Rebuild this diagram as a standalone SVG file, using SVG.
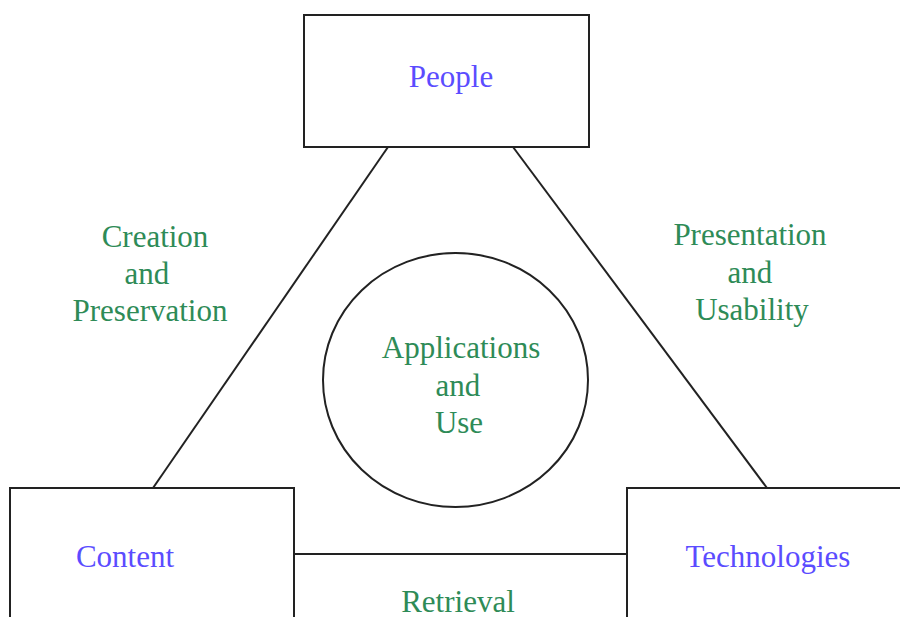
<svg xmlns="http://www.w3.org/2000/svg" width="900" height="617" viewBox="0 0 900 617">
<style>
.box{fill:#fff;stroke:#222;stroke-width:2}
.ln{stroke:#222;stroke-width:2;fill:none}
.t{font-family:"Liberation Serif","Times New Roman",serif;font-size:31px;text-anchor:middle}
.b{fill:#5b4cff}
.g{fill:#2e8b57}
</style>
<rect width="900" height="617" fill="#fff"/>
<g id="connectors">
<line class="ln" x1="388" y1="147" x2="153" y2="488"/>
<line class="ln" x1="513" y1="147" x2="767" y2="488"/>
<line class="ln" x1="294" y1="554" x2="627" y2="554"/>
</g>
<g id="people">
<rect class="box" x="304" y="15" width="285" height="132"/>
<text class="t b" x="451" y="87">People</text>
</g>
<g id="content">
<rect class="box" x="10" y="488" width="284" height="140"/>
<text class="t b" x="125" y="567">Content</text>
</g>
<g id="technologies">
<rect class="box" x="627" y="488" width="290" height="140"/>
<text class="t b" x="768" y="567">Technologies</text>
</g>
<g id="applications">
<ellipse class="ln" cx="455.5" cy="380" rx="132.5" ry="127"/>
<text class="t g" x="461" y="358">Applications</text>
<text class="t g" x="458" y="396">and</text>
<text class="t g" x="459" y="433">Use</text>
</g>
<g id="labels">
<text class="t g" x="155" y="247">Creation</text>
<text class="t g" x="147" y="284">and</text>
<text class="t g" x="150" y="321">Preservation</text>
<text class="t g" x="750" y="245">Presentation</text>
<text class="t g" x="750" y="283">and</text>
<text class="t g" x="752" y="320">Usability</text>
<text class="t g" x="458" y="612">Retrieval</text>
</g>
</svg>
